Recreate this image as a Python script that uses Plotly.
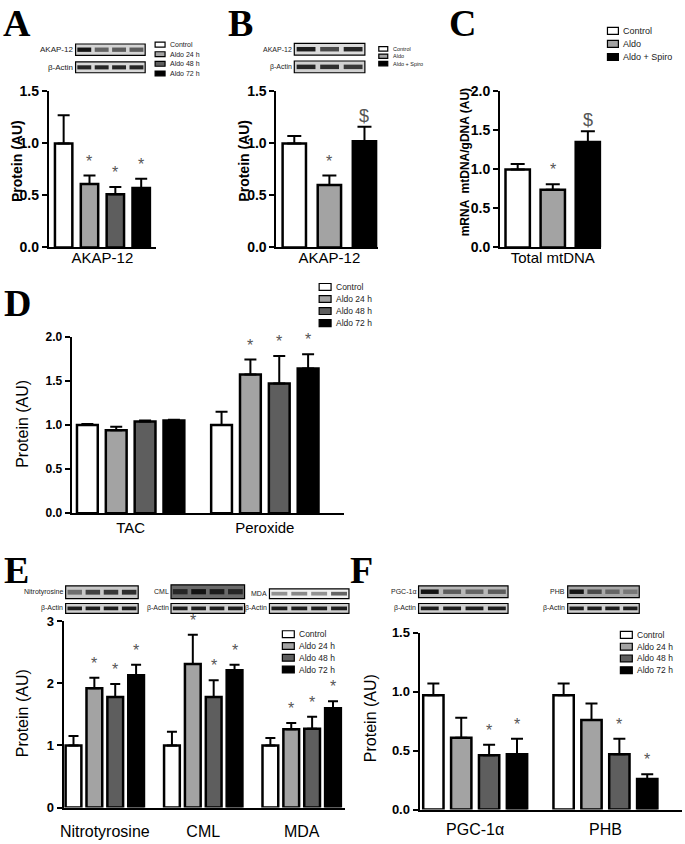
import plotly.graph_objects as go

W, H = 685, 844

# ---------------- data ----------------
time_groups = ["Control", "Aldo 24 h", "Aldo 48 h", "Aldo 72 h"]
spiro_groups = ["Control", "Aldo", "Aldo + Spiro"]
time_colors = ["#ffffff", "#a3a3a3", "#5e5e5e", "#000000"]
spiro_colors = ["#ffffff", "#a3a3a3", "#000000"]

A_cats = ["AKAP-12"]
A_vals = [[1.00], [0.61], [0.51], [0.57]]
A_errs = [[0.27], [0.08], [0.07], [0.09]]
A_sig = [[""], ["*"], ["*"], ["*"]]

B_cats = ["AKAP-12"]
B_vals = [[1.00], [0.60], [1.02]]
B_errs = [[0.07], [0.09], [0.14]]
B_sig = [[""], ["*"], ["$"]]

C_cats = ["Total mtDNA"]
C_vals = [[1.00], [0.74], [1.35]]
C_errs = [[0.07], [0.07], [0.14]]
C_sig = [[""], ["*"], ["$"]]

D_cats = ["TAC", "Peroxide"]
D_vals = [[1.00, 1.00], [0.94, 1.57], [1.04, 1.47], [1.05, 1.64]]
D_errs = [[0.01, 0.15], [0.04, 0.17], [0.01, 0.31], [0.01, 0.16]]
D_sig = [["", ""], ["", "*"], ["", "*"], ["", "*"]]

E_cats = ["Nitrotyrosine", "CML", "MDA"]
E_vals = [[1.00, 1.00, 1.00], [1.92, 2.31, 1.26], [1.78, 1.78, 1.27], [2.13, 2.21, 1.60]]
E_errs = [[0.15, 0.22, 0.12], [0.17, 0.47, 0.10], [0.21, 0.27, 0.19], [0.17, 0.09, 0.11]]
E_sig = [["", "", ""], ["*", "*", "*"], ["*", "*", "*"], ["*", "*", "*"]]

F_cats = ["PGC-1α", "PHB"]
F_vals = [[0.97, 0.97], [0.61, 0.76], [0.46, 0.47], [0.47, 0.26]]
F_errs = [[0.10, 0.10], [0.17, 0.14], [0.09, 0.13], [0.13, 0.04]]
F_sig = [["", ""], ["", ""], ["*", "*"], ["*", "*"]]

FONT = "Liberation Sans"

def px_x(x):
    return x / W

def px_y(y):
    return 1 - y / H

panels = [
    dict(letter="A", letter_pos=(-3, -8), cats=A_cats, groups=time_groups, colors=time_colors,
         vals=A_vals, errs=A_errs, sig=A_sig, xpx=(45, 153), ypx=(85, 244),
         xr=(-0.54, 0.54), yr=(0, 1.5), dtick=0.5, fmt=".1f", pitch=0.26, bw=0.175, capw=6,
         ytitle="<b>Protein (AU)</b>", ytitle_x=13, ytitle_y=156, ytitle_size=14, tick_size=14,
         cat_size=15, cat_off=-4),
    dict(letter="B", letter_pos=(223, -8), cats=B_cats, groups=spiro_groups, colors=spiro_colors,
         vals=B_vals, errs=B_errs, sig=B_sig, xpx=(274, 376), ypx=(85, 244),
         xr=(-0.533, 0.487), yr=(0, 1.5), dtick=0.5, fmt=".1f", pitch=0.353, bw=0.235, capw=7,
         ytitle="<b>Protein (AU)</b>", ytitle_x=241, ytitle_y=156, ytitle_size=14, tick_size=14,
         cat_size=15, cat_off=-4),
    dict(letter="C", letter_pos=(446, -8), cats=C_cats, groups=spiro_groups, colors=spiro_colors,
         vals=C_vals, errs=C_errs, sig=C_sig, xpx=(499, 601), ypx=(85, 244),
         xr=(-0.53, 0.49), yr=(0, 2.0), dtick=0.5, fmt=".1f", pitch=0.353, bw=0.245, capw=7,
         ytitle="<b>mRNA  mtDNA/gDNA (AU)</b>", ytitle_x=464, ytitle_y=157, ytitle_size=12,
         tick_size=14, cat_size=15, cat_off=-4),
    dict(letter="D", letter_pos=(-2, 277), cats=D_cats, groups=time_groups, colors=time_colors,
         vals=D_vals, errs=D_errs, sig=D_sig, xpx=(68, 342), ypx=(335, 515),
         xr=(-0.44, 1.59), yr=(0, 2.0), dtick=0.5, fmt=".1f", pitch=0.215, bw=0.155, capw=6,
         ytitle="Protein (AU)", ytitle_x=19, ytitle_y=424, ytitle_size=16, tick_size=12,
         cat_size=15, cat_off=0),
    dict(letter="E", letter_pos=(-2, 549), cats=E_cats, groups=time_groups, colors=time_colors,
         vals=E_vals, errs=E_errs, sig=E_sig, xpx=(60, 343), ypx=(625, 815),
         xr=(-0.418, 2.44), yr=(0, 3), dtick=1, fmt="d", pitch=0.212, bw=0.16, capw=5,
         ytitle="Protein (AU)", ytitle_x=18, ytitle_y=719, ytitle_size=16, tick_size=13,
         cat_size=16, cat_off=8),
    dict(letter="F", letter_pos=(346, 549), cats=F_cats, groups=time_groups, colors=time_colors,
         vals=F_vals, errs=F_errs, sig=F_sig, xpx=(418, 682), ypx=(637, 817),
         xr=(-0.427, 1.588), yr=(0, 1.5), dtick=0.5, fmt=".1f", pitch=0.214, bw=0.156, capw=6,
         ytitle="Protein (AU)", ytitle_x=368, ytitle_y=724, ytitle_size=16, tick_size=13,
         cat_size=16, cat_off=4),
]

fig = go.Figure()
layout = dict(width=W, height=H, margin=dict(l=0, r=0, t=0, b=0), autosize=False,
              paper_bgcolor="white", plot_bgcolor="white", barmode="overlay",
              showlegend=False, font=dict(family=FONT, color="black"))
annotations = []
shapes = []

for i, p in enumerate(panels, start=1):
    xa = "x" if i == 1 else f"x{i}"
    ya = "y" if i == 1 else f"y{i}"
    n = len(p["groups"])
    for s in range(n):
        xs = [c + (s - (n - 1) / 2) * p["pitch"] for c in range(len(p["cats"]))]
        fig.add_trace(go.Bar(
            x=xs, y=p["vals"][s], width=p["bw"], name=p["groups"][s],
            marker=dict(color=p["colors"][s], line=dict(color="black", width=2.5)),
            error_y=dict(type="data", array=p["errs"][s], arrayminus=[0] * len(xs),
                         symmetric=False, thickness=2, width=p["capw"], color="black"),
            xaxis=xa, yaxis=ya, showlegend=False, hoverinfo="skip"))
        # significance marks anchored to the error-bar tops in data coordinates
        for xv, v, e, t in zip(xs, p["vals"][s], p["errs"][s], p["sig"][s]):
            if not t:
                continue
            annotations.append(dict(
                text=t, x=xv, y=v + e, xref=xa, yref=ya, xanchor="center", yanchor="bottom",
                yshift=4 if t == "*" else -1, showarrow=False,
                font=dict(family=FONT, size=16 if t == "*" else 18, color="#555555")))
    xkey = "xaxis" if i == 1 else f"xaxis{i}"
    ykey = "yaxis" if i == 1 else f"yaxis{i}"
    layout[xkey] = dict(domain=[px_x(p["xpx"][0]), px_x(p["xpx"][1])], range=list(p["xr"]),
                        anchor=ya, showline=True, linecolor="black", linewidth=2,
                        ticks="", tickmode="array", tickvals=list(range(len(p["cats"]))),
                        ticktext=p["cats"], tickfont=dict(family=FONT, size=p["cat_size"]),
                        ticklabelstandoff=p["cat_off"],
                        showgrid=False, zeroline=False, fixedrange=True)
    layout[ykey] = dict(domain=[px_y(p["ypx"][1]), px_y(p["ypx"][0])], range=list(p["yr"]),
                        anchor=xa, showline=True, linecolor="black", linewidth=2,
                        ticks="outside", ticklen=5, tickwidth=2, tickcolor="black",
                        dtick=p["dtick"], tick0=0, tickformat=p["fmt"],
                        tickfont=dict(family=FONT, size=p["tick_size"], weight="bold"),
                        showgrid=False, zeroline=False, fixedrange=True)
    annotations.append(dict(text=p["ytitle"], x=px_x(p["ytitle_x"]), y=px_y(p["ytitle_y"]),
                            xref="paper", yref="paper", xanchor="center", yanchor="middle",
                            textangle=-90, showarrow=False,
                            font=dict(family=FONT, size=p["ytitle_size"], color="black")))
    annotations.append(dict(text=f"<b>{p['letter']}</b>", x=px_x(p["letter_pos"][0]),
                            y=px_y(p["letter_pos"][1]), xref="paper", yref="paper",
                            xanchor="left", yanchor="top", showarrow=False,
                            font=dict(family="Liberation Serif", size=38, color="black")))

# ---------------- legends (drawn as swatches + labels) ----------------
def add_legend(x0, y_first, step, names, colors, fsize, sw, sh):
    for k, (nm, col) in enumerate(zip(names, colors)):
        yc = y_first + k * step
        shapes.append(dict(type="rect", xref="paper", yref="paper",
                           x0=px_x(x0), x1=px_x(x0 + sw), y0=px_y(yc + sh / 2), y1=px_y(yc - sh / 2),
                           fillcolor=col, line=dict(color="black", width=1.2)))
        annotations.append(dict(text=nm, x=px_x(x0 + sw + 3), y=px_y(yc), xref="paper", yref="paper",
                                xanchor="left", yanchor="middle", showarrow=False,
                                font=dict(family=FONT, size=fsize, color="#222222")))

add_legend(152, 37.3, 9.8, time_groups, time_colors, 7, 10, 5)
add_legend(377, 41.7, 7.5, spiro_groups, spiro_colors, 5.5, 9, 4.5)
add_legend(607, 23.3, 13.3, spiro_groups, spiro_colors, 9, 11, 7)
add_legend(317, 284.3, 12.3, time_groups, time_colors, 8.5, 12, 7)
add_legend(280, 638.3, 12.0, time_groups, time_colors, 8.5, 12, 7)
add_legend(620, 639.0, 12.0, time_groups, time_colors, 8.5, 12, 7)

# ---------------- western blot strips (decorative) ----------------
def add_blot(label, x0, x1, y0, y1, lanes, bg, fsize):
    shapes.append(dict(type="rect", xref="paper", yref="paper", layer="above",
                       x0=px_x(x0), x1=px_x(x1), y0=px_y(y1), y1=px_y(y0),
                       fillcolor=bg, line=dict(color="black", width=1.2)))
    lw = (x1 - x0) / len(lanes)
    for k, strength in enumerate(lanes):
        cx = x0 + (k + 0.5) * lw
        bh = (y1 - y0) * 0.38
        cy = (y0 + y1) / 2
        g = int(200 - 180 * strength)
        shapes.append(dict(type="rect", xref="paper", yref="paper", layer="above",
                           x0=px_x(cx - lw * 0.4), x1=px_x(cx + lw * 0.4),
                           y0=px_y(cy + bh / 2), y1=px_y(cy - bh / 2),
                           fillcolor=f"rgb({g},{g},{g})", line=dict(width=0)))
    annotations.append(dict(text=label, x=px_x(x0 - 0.5), y=px_y((y0 + y1) / 2), xref="paper",
                            yref="paper", xanchor="right", yanchor="middle", showarrow=False,
                            font=dict(family=FONT, size=fsize, color="#222222")))

add_blot("AKAP-12", 72, 142, 36.7, 48.3, [1.0, 0.55, 0.6, 0.6], "#d5d5d5", 8)
add_blot("β-Actin", 72, 142, 55, 66, [0.9, 0.9, 0.9, 0.9], "#d8d8d8", 8)
add_blot("AKAP-12", 292, 363, 36, 48, [0.95, 0.7, 0.9], "#dcdcdc", 7)
add_blot("β-Actin", 292, 363, 54, 66, [0.9, 0.85, 0.8], "#d0d0d0", 7)
add_blot("Nitrotyrosine", 62, 135, 589, 602, [0.5, 0.75, 0.8, 0.85], "#c8c8c8", 7)
add_blot("β-Actin", 62, 135, 607, 617, [0.95, 0.95, 0.95, 0.95], "#d0d0d0", 7)
add_blot("CML", 168, 242, 588, 602, [0.9, 1.0, 0.95, 0.9], "#6a6a6a", 7)
add_blot("β-Actin", 168, 242, 607, 617, [0.95, 0.95, 0.95, 0.95], "#d0d0d0", 7)
add_blot("MDA", 267, 347, 592, 602, [0.3, 0.35, 0.3, 0.55], "#f0f0f0", 7)
add_blot("β-Actin", 267, 347, 607, 617, [0.95, 0.95, 0.95, 0.95], "#d0d0d0", 7)
add_blot("PGC-1α", 417, 507, 589, 601, [1.0, 0.6, 0.55, 0.6], "#b8b8b8", 7)
add_blot("β-Actin", 417, 507, 607, 617, [0.95, 0.95, 0.95, 0.95], "#d0d0d0", 7)
add_blot("PHB", 567, 639, 589, 601, [1.0, 0.7, 0.55, 0.45], "#a8a8a8", 7)
add_blot("β-Actin", 567, 639, 607, 617, [0.95, 0.95, 0.95, 0.95], "#d0d0d0", 7)

layout["annotations"] = annotations
layout["shapes"] = shapes
fig.update_layout(**layout)
fig.write_html("out.html", config={"displayModeBar": False},
               post_script="document.body.style.margin='0';document.body.style.overflow='hidden';")
